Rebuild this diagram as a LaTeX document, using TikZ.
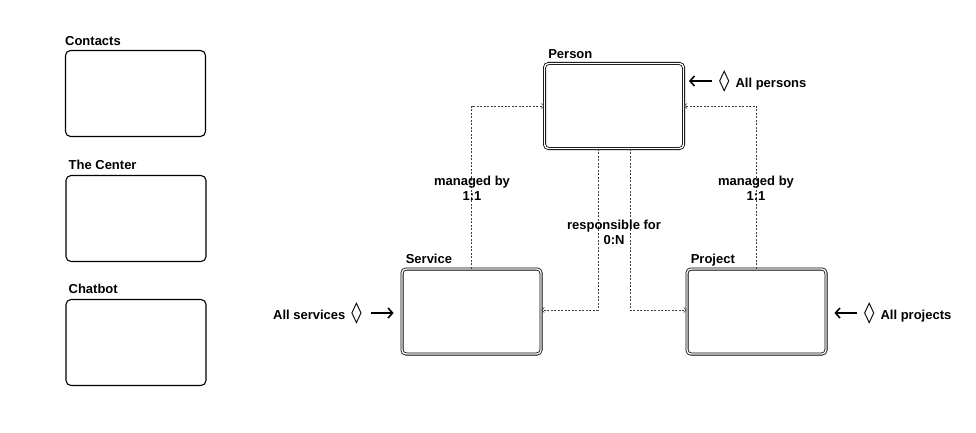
\documentclass[tikz,border=0pt]{standalone}
\usepackage{fontspec}
\setmainfont{Liberation Sans}[BoldFont={Liberation Sans Bold}]
\newfontfamily\symfont{DejaVu Sans}
\usetikzlibrary{arrows.meta}

\tikzset{
    entity/.style={draw, double, double distance=1.4pt, line width=0.8pt,
        rounded corners=4pt, minimum width=139pt, minimum height=85pt},
    panel/.style={draw, line width=1.1pt, rounded corners=5pt,
        minimum width=140pt, minimum height=86pt},
    title/.style={anchor=base west, inner sep=0pt},
    link/.style={draw=black!75, line width=0.6pt, dash pattern=on 2pt off 1.5pt,
        -{Straight Barb[length=2.5pt,width=5pt]}},
    feed/.style={line width=1.6pt, -{Straight Barb[length=4.5pt,width=10pt]}},
    tag/.style={inner sep=0pt, align=center}
}
\newcommand{\lozengesym}{{\symfont\fontsize{21}{21}\selectfont ◊}}

\begin{document}
\begin{tikzpicture}[x=1pt, y=-1pt, font=\bfseries\fontsize{13}{15}\selectfont]
    \useasboundingbox (0,0) rectangle (976,433);

    % left column
    \node[panel] (contacts) at (135.5,93.5) {};
    \node[panel] (center) at (136,218.5) {};
    \node[panel] (chatbot) at (136,342.5) {};
    \node[title] at ([yshift=4pt]contacts.north west) {Contacts};
    \node[title] at ([xshift=3pt,yshift=5pt]center.north west) {The Center};
    \node[title] at ([xshift=3pt,yshift=5pt]chatbot.north west) {Chatbot};

    % entities
    \node[entity] (person) at (614,106) {};
    \node[entity] (service) at (471.5,311.5) {};
    \node[entity] (project) at (756.5,311.5) {};
    \node[title] at ([xshift=4pt,yshift=5pt]person.north west) {Person};
    \node[title] at ([xshift=4pt,yshift=5pt]service.north west) {Service};
    \node[title] at ([xshift=4pt,yshift=5pt]project.north west) {Project};

    % relations
    \draw[link] (service.north) |- (person.west);
    \draw[link] (project.north) |- (person.east);
    \draw[link] ([xshift=-16pt]person.south) |- ([yshift=1.5pt]service.east);
    \draw[link] ([xshift=16pt]person.south) |- ([yshift=1.5pt]project.west);

    \node[tag] (mgs) at (472,188) {managed by\\1:1};
    \node[tag] (mgp) at (756,188) {managed by\\1:1};
    \node[tag] (resp) at (614,232) {responsible for\\0:N};

    % entry points
    \node[tag, anchor=west] (allpersons) at (719,81) {\lozengesym\hspace{6pt}All persons};
    \node[tag, anchor=east] (allservices) at (362,313) {All services\hspace{6pt}\lozengesym};
    \node[tag, anchor=west] (allprojects) at (864,313) {\lozengesym\hspace{6pt}All projects};

    \draw[feed, shorten <=7pt, shorten >=5pt]
        (allpersons.west) -- (allpersons.west -| person.east);
    \draw[feed, shorten <=9pt, shorten >=8pt]
        (allservices.east) -- (allservices.east -| service.west);
    \draw[feed, shorten <=7pt, shorten >=8pt]
        (allprojects.west) -- (allprojects.west -| project.east);
\end{tikzpicture}
\end{document}
